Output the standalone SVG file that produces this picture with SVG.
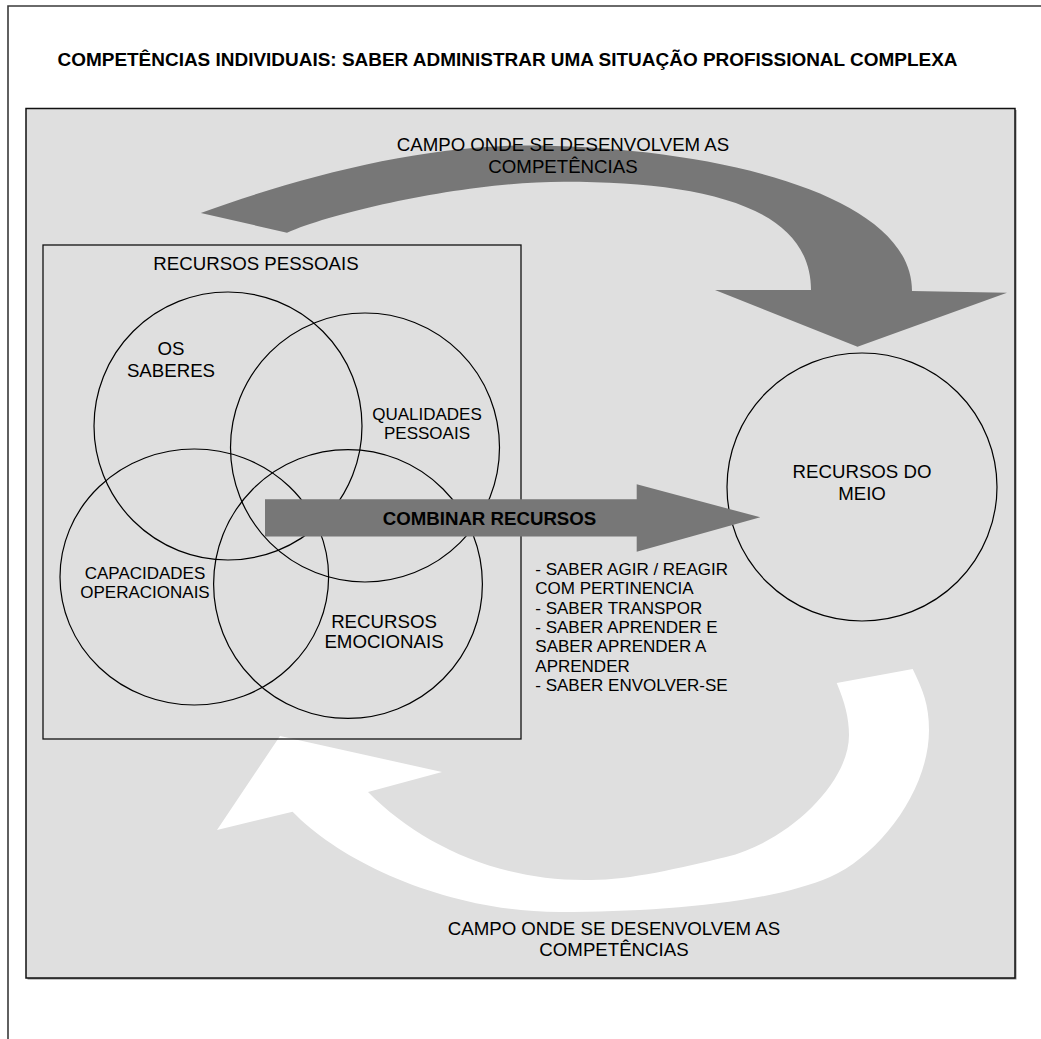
<svg xmlns="http://www.w3.org/2000/svg" width="1041" height="1039" viewBox="0 0 1041 1039">
<style>
  text { font-family: "Liberation Sans", Arial, sans-serif; fill: #000; }
  .t { font-size: 18.67px; text-anchor: middle; }
  .s { font-size: 17px; text-anchor: middle; }
  .l { font-size: 17px; }
  .b { font-weight: bold; }
  .ring { fill: none; stroke: #000; stroke-width: 1.2; }
</style>
<rect x="0" y="0" width="1041" height="1039" fill="#fff"/>
<path d="M8,1045 V6 H1045" fill="none" stroke="#3a3a3a" stroke-width="1.6"/>
<g id="title">
  <text class="b" x="57.5" y="66" style="font-size:19px" textLength="900" lengthAdjust="spacingAndGlyphs">COMPETÊNCIAS INDIVIDUAIS: SABER ADMINISTRAR UMA SITUAÇÃO PROFISSIONAL COMPLEXA</text>
</g>
<g id="panel">
  <rect x="27.5" y="110" width="989" height="869.5" fill="#8a8a8a"/>
  <rect x="26" y="108.5" width="989" height="869.5" fill="#dfdfdf" stroke="#111" stroke-width="1.5"/>
</g>
<g id="connectors">
  <path id="arrow-top" fill="#777" d="M200.8,213 C300,177 420,145.5 525,145.5 C700,145.5 912,190 912,291 L1007,292.7 L857.5,346.7 L715,290 L811,290 C811,205 700,181.7 564,181.7 C470,181.7 340,210 287,232.7 Z"/>
  <path id="arrow-bottom" fill="#fff" d="M836.7,683 C844.7,702 849,718 849,735 C849,785 785,843 726,857 C680,868 630,880 591,880 C500,882 420,845 368,792 L442,772 L280,736 L217,830 L292.6,811.7 C342.6,863.7 450,912 560,912 C660,912 770,903 830,877 C880,855 929,790 929,730 C929,705 923,690 912.7,669 Z"/>
</g>
<g id="recursos-pessoais">
  <rect x="43" y="245" width="478" height="494" fill="none" stroke="#111" stroke-width="1.3"/>
  <text class="t" x="256" y="270">RECURSOS PESSOAIS</text>
</g>
<g id="os-saberes">
  <circle class="ring" cx="228" cy="426" r="134"/>
  <text class="t" x="171" y="355">OS</text>
  <text class="t" x="171" y="377">SABERES</text>
</g>
<g id="qualidades-pessoais">
  <circle class="ring" cx="365" cy="447.5" r="134.5"/>
  <text class="s" x="427" y="420">QUALIDADES</text>
  <text class="s" x="427" y="439">PESSOAIS</text>
</g>
<g id="capacidades-operacionais">
  <ellipse class="ring" cx="194.3" cy="577" rx="134.3" ry="128"/>
  <text class="s" x="145" y="579">CAPACIDADES</text>
  <text class="s" x="145" y="598.3">OPERACIONAIS</text>
</g>
<g id="recursos-emocionais">
  <circle class="ring" cx="348" cy="584" r="134.4"/>
  <text class="t" x="384" y="628">RECURSOS</text>
  <text class="t" x="384" y="648">EMOCIONAIS</text>
</g>
<g id="recursos-do-meio">
  <ellipse class="ring" cx="862" cy="487" rx="135" ry="134"/>
  <text class="t" x="862" y="478">RECURSOS DO</text>
  <text class="t" x="862" y="500">MEIO</text>
</g>
<g id="combinar-recursos">
  <path fill="#777" d="M265,499.3 H636.7 V484.3 L760.3,517.3 L636.7,551.7 V536.5 H265 Z"/>
  <text class="t b" x="489.5" y="525">COMBINAR RECURSOS</text>
</g>
<g id="saber-list">
  <text class="l" x="535.3" y="575">- SABER AGIR / REAGIR</text>
  <text class="l" x="535.3" y="594.3">COM PERTINENCIA</text>
  <text class="l" x="535.3" y="613.6">- SABER TRANSPOR</text>
  <text class="l" x="535.3" y="632.9">- SABER APRENDER E</text>
  <text class="l" x="535.3" y="652.2">SABER APRENDER A</text>
  <text class="l" x="535.3" y="671.5">APRENDER</text>
  <text class="l" x="535.3" y="690.8">- SABER ENVOLVER-SE</text>
</g>
<g id="label-top">
  <text class="t" x="563" y="151">CAMPO ONDE SE DESENVOLVEM AS</text>
  <text class="t" x="563" y="172.5">COMPETÊNCIAS</text>
</g>
<g id="label-bottom">
  <text class="t" x="614" y="935">CAMPO ONDE SE DESENVOLVEM AS</text>
  <text class="t" x="614" y="956">COMPETÊNCIAS</text>
</g>
</svg>
